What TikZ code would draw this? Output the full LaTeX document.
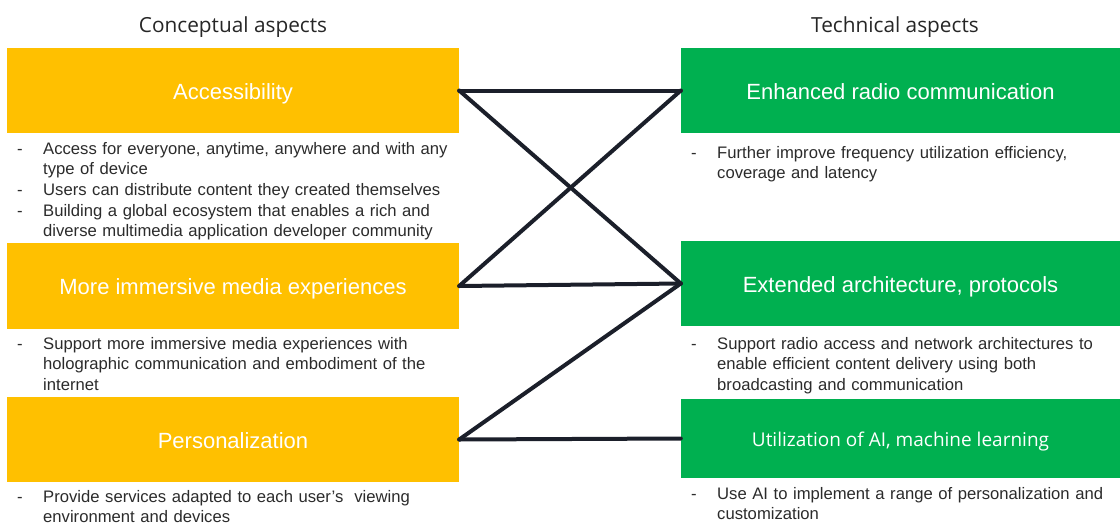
\documentclass[tikz,border=0pt]{standalone}
\usepackage{fontspec}
\setmainfont{Liberation Sans}
\newfontfamily\segoe{Open Sans}
\definecolor{boxyellow}{HTML}{FFC000}
\definecolor{boxgreen}{HTML}{00B050}
\definecolor{linedark}{HTML}{1B1F2A}
\definecolor{bodytext}{HTML}{2B2B2B}
\newcommand{\itm}[1]{\hangindent=26pt\hangafter=1\noindent\makebox[26pt][l]{-}#1\par}
\begin{document}
\begin{tikzpicture}[x=1pt,y=-1pt,
  ybox/.style={fill=boxyellow,draw=none,minimum width=452pt,minimum height=85pt,inner sep=0pt,text=white,text height=19pt,text depth=1.2pt,font=\fontsize{22}{26}\selectfont},
  gbox/.style={fill=boxgreen,draw=none,minimum width=439pt,minimum height=85pt,inner sep=0pt,text=white,text height=19pt,text depth=1.2pt,font=\fontsize{22}{26}\selectfont},
  body/.style={anchor=north west,inner sep=0pt,text width=470pt,text=bodytext,font=\fontsize{16.65}{20.6}\selectfont},
  heading/.style={font=\segoe\fontsize{20.8}{24}\selectfont,text=black!85},
  link/.style={draw=linedark,line width=4pt,line cap=round,line join=round}]
\useasboundingbox (0,0) rectangle (1120,523);
\node[heading] (ct) at (233,27) {Conceptual aspects};
\node[heading] (tt) at (895,27) {Technical aspects};
% left boxes
\node[ybox] (acc) at (233,90.5) {Accessibility};
\node[ybox,minimum height=86pt] (imm) at (233,286) {More immersive media experiences};
\node[ybox] (per) at (233,439.5) {Personalization};
% right boxes
\node[gbox] (enh) at (900.5,90.5) {Enhanced radio communication};
\node[gbox] (ext) at (900.5,283.5) {Extended architecture, protocols};
\node[gbox,minimum height=79pt,text height=17pt,text depth=1.4pt,font=\segoe\fontsize{19}{24}\selectfont] (uti) at (900.5,438.5) {Utilization of AI, machine learning};
% body texts
\node[body] (accb) at (17,142) {\itm{Access for everyone, anytime, anywhere and with any\newline type of device}\itm{Users can distribute content they created themselves}\itm{Building a global ecosystem that enables a rich and\newline diverse multimedia application developer community}};
\node[body] (immb) at (17,337) {\itm{Support more immersive media experiences with\newline holographic communication and embodiment of the\newline internet}};
\node[body] (perb) at (17,490) {\itm{Provide services adapted to each user's\ \ viewing\newline environment and devices}};
\node[body] (enhb) at (691,146) {\itm{Further improve frequency utilization efficiency,\newline coverage and latency}};
\node[body] (extb) at (691,337) {\itm{Support radio access and network architectures to\newline enable efficient content delivery using both\newline broadcasting and communication}};
\node[body] (utib) at (691,487) {\itm{Use AI to implement a range of personalization and\newline customization}};
% connectors
\draw[link] (acc.east) -- (enh.west);
\draw[link] (acc.east) -- (ext.west);
\draw[link] (imm.east) -- (enh.west);
\draw[link] (imm.east) -- (ext.west);
\draw[link] (per.east) -- (ext.west);
\draw[link] (per.east) -- (uti.west);
\end{tikzpicture}
\end{document}
